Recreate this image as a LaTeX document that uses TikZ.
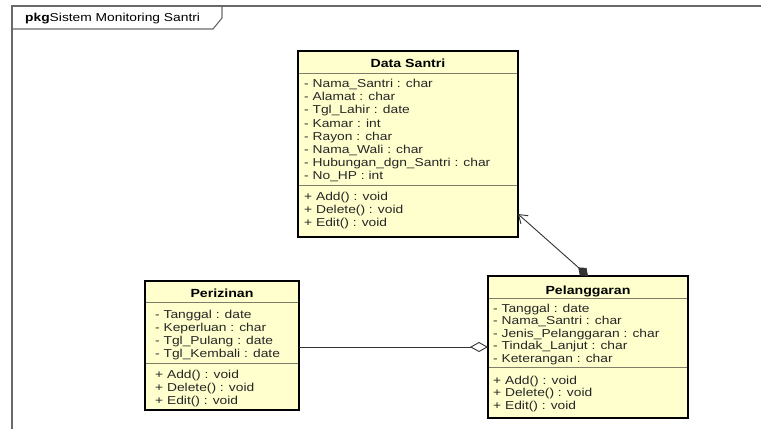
\documentclass[tikz,border=0pt]{standalone}
\usepackage{fontspec}
\setmainfont{Liberation Sans}[FakeStretch=1.2]
\usetikzlibrary{arrows.meta}
\definecolor{clsfill}{RGB}{255,255,206}
\definecolor{divcol}{RGB}{125,125,105}
\definecolor{framecol}{RGB}{105,105,105}
\begin{document}
\begin{tikzpicture}[x=1pt,y=-1pt,
  cls/.style={fill=clsfill, anchor=north west, inner sep=0pt, outer sep=0pt},
  border/.style={draw=black, line width=1.6pt},
  divider/.style={draw=divcol, line width=0.9pt},
  ttl/.style={font=\fontsize{11.8}{13}\selectfont\bfseries, anchor=base, inner sep=0pt},
  itm/.style={font=\fontsize{11.5}{13}\selectfont, anchor=base west, inner sep=0pt, text=black!85},
  conn/.style={draw=black!80, line width=0.9pt}]
\useasboundingbox (0,0) rectangle (761,429);
\fill[white] (0,0) rectangle (761,429);
% package frame
\draw[framecol, line width=1.3pt] (12,429) -- (12,6) -- (761,6);
\draw[framecol, line width=1.1pt] (12,29) -- (213,29) -- (222,18) -- (222,6);
\node[font=\fontsize{11.5}{13}\selectfont, anchor=base west, inner sep=0pt] (pkg) at (25,21) {\textbf{pkg}Sistem Monitoring Santri};
% Data Santri
\node[cls, minimum width=220pt, minimum height=186pt] (ds) at (298,51) {};
\draw[divider] (ds.west |- 0,73) -- (ds.east |- 0,73);
\draw[divider] (ds.west |- 0,185) -- (ds.east |- 0,185);
\draw[border] (ds.north west) rectangle (ds.south east);
\node[ttl] (dst) at (408,67) {Data Santri};
\foreach \t [count=\i from 0] in {- Nama\_Santri : char, - Alamat : char, - Tgl\_Lahir : date, - Kamar : int, - Rayon : char, - Nama\_Wali : char, - Hubungan\_dgn\_Santri : char, - No\_HP : int}
  \node[itm] (dsa\i) at (304,87.5+13.2*\i) {\t};
\foreach \t [count=\i from 0] in {+ Add() : void, + Delete() : void, + Edit() : void}
  \node[itm] (dsm\i) at (304,200.7+12.9*\i) {\t};
% Perizinan
\node[cls, minimum width=154pt, minimum height=129pt] (pz) at (145,281) {};
\draw[divider] (pz.west |- 0,302) -- (pz.east |- 0,302);
\draw[divider] (pz.west |- 0,363) -- (pz.east |- 0,363);
\draw[border] (pz.north west) rectangle (pz.south east);
\node[ttl] (pzt) at (222,297) {Perizinan};
\foreach \t [count=\i from 0] in {- Tanggal : date, - Keperluan : char, - Tgl\_Pulang : date, - Tgl\_Kembali : date}
  \node[itm] (pza\i) at (155,318+13*\i) {\t};
\foreach \t [count=\i from 0] in {+ Add() : void, + Delete() : void, + Edit() : void}
  \node[itm] (pzm\i) at (155,378+13*\i) {\t};
% Pelanggaran
\node[cls, minimum width=200pt, minimum height=142pt] (pl) at (488,276) {};
\draw[divider] (pl.west |- 0,298) -- (pl.east |- 0,298);
\draw[divider] (pl.west |- 0,367) -- (pl.east |- 0,367);
\draw[border] (pl.north west) rectangle (pl.south east);
\node[ttl] (plt) at (588,294) {Pelanggaran};
\foreach \t [count=\i from 0] in {- Tanggal : date, - Nama\_Santri : char, - Jenis\_Pelanggaran : char, - Tindak\_Lanjut : char, - Keterangan : char}
  \node[itm] (pla\i) at (493,312+12.5*\i) {\t};
\foreach \t [count=\i from 0] in {+ Add() : void, + Delete() : void, + Edit() : void}
  \node[itm] (plm\i) at (493,384+12.5*\i) {\t};
% connectors
\draw[conn, {Straight Barb[length=8pt,width=11pt]}-{Diamond[length=13pt,width=10pt]}] ([yshift=23pt]ds.south east) -- (pl.north);
\draw[conn, -{Diamond[open, fill=white, length=18pt, width=10pt]}] (pz.east |- pl.west) -- (pl.west);
\end{tikzpicture}
\end{document}
